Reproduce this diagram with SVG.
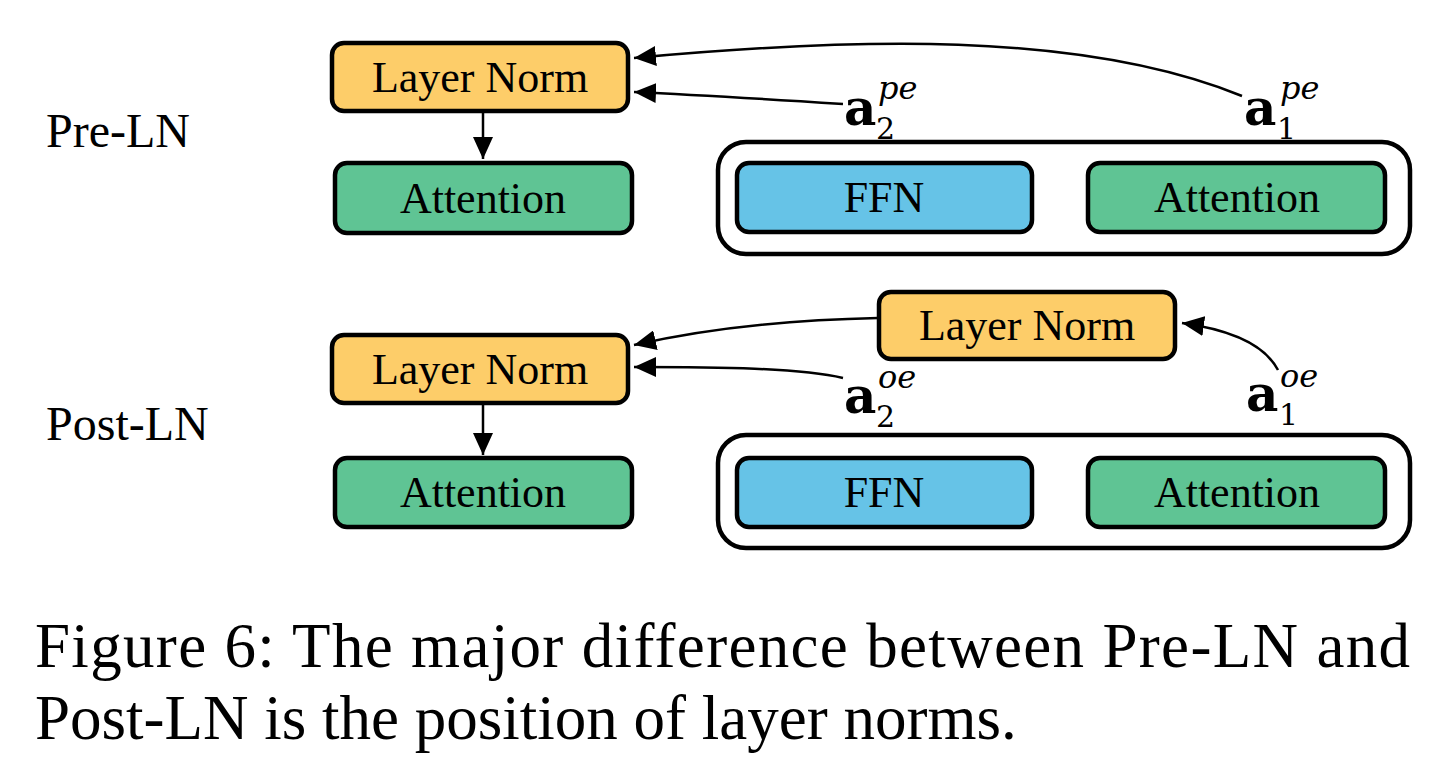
<svg xmlns="http://www.w3.org/2000/svg" width="1430" height="770" viewBox="0 0 1430 770">
<style>
.box{stroke:#000;stroke-width:4.5}
.ln{fill:#FDCD69}
.att{fill:#5FC494}
.ffn{fill:#66C3E7}
.cont{fill:#fff;stroke:#000;stroke-width:4.5}
.t{font-family:"Liberation Serif","Times New Roman",serif;font-size:44px;fill:#000;text-anchor:middle}
.lab{font-family:"Liberation Serif","Times New Roman",serif;font-size:48px;fill:#000}
.cap{font-family:"Liberation Serif","Times New Roman",serif;font-size:63px;fill:#000}
.ma{font-family:"DejaVu Serif","Liberation Serif",serif;font-weight:bold;font-size:50px;fill:#000}
.ms{font-family:"DejaVu Serif","Liberation Serif",serif;font-size:30px;fill:#000}
.mi{font-family:"DejaVu Serif","Liberation Serif",serif;font-style:italic;font-size:32px;fill:#000}
.c{fill:none;stroke:#000;stroke-width:2.5;marker-end:url(#ah)}
</style>
<defs>
<marker id="ah" markerUnits="userSpaceOnUse" markerWidth="24" markerHeight="20" refX="22" refY="10" orient="auto">
<path d="M0,0 L22,10 L0,20 Z" fill="#000"/>
</marker>
</defs>
<rect width="1430" height="770" fill="#fff"/>

<text class="lab" x="46" y="147">Pre-LN</text>
<text class="lab" x="46" y="440">Post-LN</text>

<g id="pre-container"><rect class="cont" x="718" y="142" width="692" height="112" rx="28"/></g>
<g id="pre-ln"><rect class="box ln" x="332" y="43" width="296" height="68" rx="12"/><text class="t" x="480" y="92">Layer Norm</text></g>
<g id="pre-att"><rect class="box att" x="335" y="163" width="297" height="70" rx="12"/><text class="t" x="483" y="213">Attention</text></g>
<g id="pre-ffn"><rect class="box ffn" x="737" y="163" width="295" height="69" rx="12"/><text class="t" x="884" y="212">FFN</text></g>
<g id="pre-att2"><rect class="box att" x="1088" y="163" width="297" height="69" rx="12"/><text class="t" x="1237" y="212">Attention</text></g>

<g id="post-container"><rect class="cont" x="718" y="435" width="692" height="113" rx="28"/></g>
<g id="post-ln"><rect class="box ln" x="332" y="335" width="296" height="68" rx="12"/><text class="t" x="480" y="384">Layer Norm</text></g>
<g id="post-att"><rect class="box att" x="335" y="458" width="297" height="69" rx="12"/><text class="t" x="483" y="507">Attention</text></g>
<g id="post-ln2"><rect class="box ln" x="879" y="292" width="296" height="67" rx="12"/><text class="t" x="1027" y="340">Layer Norm</text></g>
<g id="post-ffn"><rect class="box ffn" x="737" y="458" width="295" height="69" rx="12"/><text class="t" x="884" y="507">FFN</text></g>
<g id="post-att2"><rect class="box att" x="1088" y="458" width="297" height="69" rx="12"/><text class="t" x="1237" y="507">Attention</text></g>

<g id="labels">
<text class="ma" x="844" y="125">a</text><text class="ms" x="876" y="139">2</text><text class="mi" x="878" y="99">pe</text>
<text class="ma" x="1244" y="125">a</text><text class="ms" x="1277" y="139">1</text><text class="mi" x="1280" y="99">pe</text>
<text class="ma" x="844" y="413">a</text><text class="ms" x="876" y="427">2</text><text class="mi" x="878" y="388">oe</text>
<text class="ma" x="1246" y="411">a</text><text class="ms" x="1279" y="425">1</text><text class="mi" x="1280" y="387">oe</text>
</g>

<g id="connectors">
<path class="c" d="M483,112 L483,159"/>
<path class="c" d="M483,404 L483,455"/>
<path class="c" d="M1242,96 C1080,30 850,38 634,58"/>
<path class="c" d="M843,104 C780,100 700,95 634,92"/>
<path class="c" d="M878,318 C780,320 700,330 634,345"/>
<path class="c" d="M843,378 C800,368 720,367 634,367"/>
<path class="c" d="M1278,370 C1265,345 1232,330 1182,323"/>
</g>

<text class="cap" x="35" y="667" textLength="1375" lengthAdjust="spacing">Figure 6: The major difference between Pre-LN and</text>
<text class="cap" x="35" y="739">Post-LN is the position of layer norms.</text>
</svg>
